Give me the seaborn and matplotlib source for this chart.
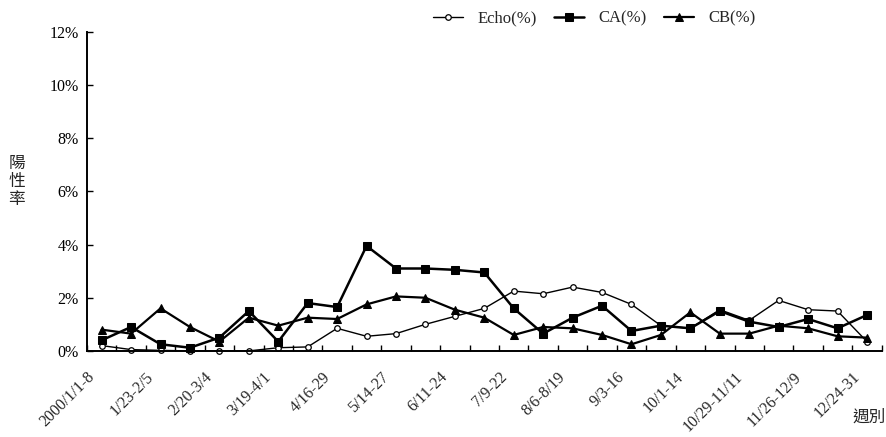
import numpy as np
import pandas as pd
import matplotlib
matplotlib.use('Agg')
import matplotlib.pyplot as plt
import matplotlib.ticker as mticker
from matplotlib.transforms import ScaledTranslation
import seaborn as sns

# Biweekly periods of 2000 (27 points), labels shown every other period
periods = ['2000/1/1-8', '1/9-22', '1/23-2/5', '2/6-19', '2/20-3/4', '3/5-18',
           '3/19-4/1', '4/2-15', '4/16-29', '4/30-5/13', '5/14-27', '5/28-6/10',
           '6/11-24', '6/25-7/8', '7/9-22', '7/23-8/5', '8/6-8/19', '8/20-9/2',
           '9/3-16', '9/17-30', '10/1-14', '10/15-28', '10/29-11/11', '11/12-25',
           '11/26-12/9', '12/10-23', '12/24-31']

echo = [0.2, 0.05, 0.02, 0.0, 0.0, 0.0, 0.12, 0.15, 0.85, 0.55, 0.65, 1.0, 1.3, 1.6,
        2.25, 2.15, 2.4, 2.2, 1.75, 0.95, 0.85, 1.55, 1.15, 1.9, 1.55, 1.5, 0.35]
ca = [0.4, 0.9, 0.25, 0.12, 0.5, 1.5, 0.35, 1.8, 1.65, 3.95, 3.1, 3.1, 3.05, 2.95,
      1.6, 0.65, 1.25, 1.7, 0.75, 0.95, 0.85, 1.5, 1.1, 0.9, 1.2, 0.85, 1.35]
cb = [0.8, 0.65, 1.6, 0.9, 0.35, 1.25, 0.95, 1.25, 1.2, 1.75, 2.05, 2.0, 1.55, 1.25,
      0.6, 0.9, 0.85, 0.6, 0.25, 0.6, 1.45, 0.65, 0.65, 0.95, 0.85, 0.55, 0.5]

series_names = ['Echo(%)', 'CA(%)', 'CB(%)']
series_vals = [echo, ca, cb]

sns.set_theme(style='white')
plt.rcParams['font.family'] = ['Liberation Serif', 'Noto Sans CJK TC']

fig = plt.figure(figsize=(8.87, 4.37), dpi=100)
ax = fig.add_axes([0.098, 0.197, 0.896, 0.730])

idx = np.arange(len(periods))
styles = {
    'Echo(%)': dict(marker='o', markersize=4, linewidth=1.0, markerfacecolor='white',
                    markeredgecolor='black', markeredgewidth=0.9),
    'CA(%)': dict(marker='s', markersize=5.5, linewidth=1.8, markerfacecolor='black',
                  markeredgecolor='black'),
    'CB(%)': dict(marker='^', markersize=5.5, linewidth=1.6, markerfacecolor='black',
                  markeredgecolor='black'),
}
for name, vals in zip(series_names, series_vals):
    sns.lineplot(x=idx, y=vals, ax=ax, color='black', label=name, clip_on=False,
                 **styles[name])

ax.set_xlim(-0.5, len(periods) - 0.5)
ax.set_ylim(0, 12)
ax.yaxis.set_major_locator(mticker.MultipleLocator(2))
ax.yaxis.set_major_formatter(mticker.FuncFormatter(lambda v, p: f'{v:.0f}%'))
ax.tick_params(axis='y', direction='in', length=4, width=1, labelsize=11.5, pad=6,
               left=True, colors='black')

ax.set_xticks(idx[::2])
ax.set_xticklabels(periods[::2], rotation=45, ha='right', rotation_mode='anchor',
                   fontsize=11.5)
ax.set_xticks(np.arange(-0.5, len(periods)), minor=True)
ax.tick_params(axis='x', which='major', length=0, pad=13)
ax.tick_params(axis='x', which='minor', direction='in', length=4, width=1,
               bottom=True, colors='black')
shift = ScaledTranslation(-0.15, 0, fig.dpi_scale_trans)
for lbl in ax.get_xticklabels():
    lbl.set_transform(lbl.get_transform() + shift)

sns.despine(ax=ax)
for side in ['left', 'bottom']:
    ax.spines[side].set_color('black')
    ax.spines[side].set_linewidth(1.4)
ax.set_xlabel('')
ax.set_ylabel('')

ax.get_legend().remove()
handles, labels = ax.get_legend_handles_labels()
fig.legend(handles, labels, loc='center', bbox_to_anchor=(0.67, 0.958), ncol=3,
           frameon=False, fontsize=12, handlelength=1.8, columnspacing=1.0,
           handletextpad=0.9)

fig.text(0.019, 0.585, '陽\n性\n率', fontsize=12, ha='center', va='center',
         linespacing=1.1, family=['Noto Sans CJK TC'])
fig.text(0.998, 0.025, '週別', fontsize=12, ha='right', va='bottom',
         family=['Noto Sans CJK TC'])

fig.savefig('out.png', dpi=100)
